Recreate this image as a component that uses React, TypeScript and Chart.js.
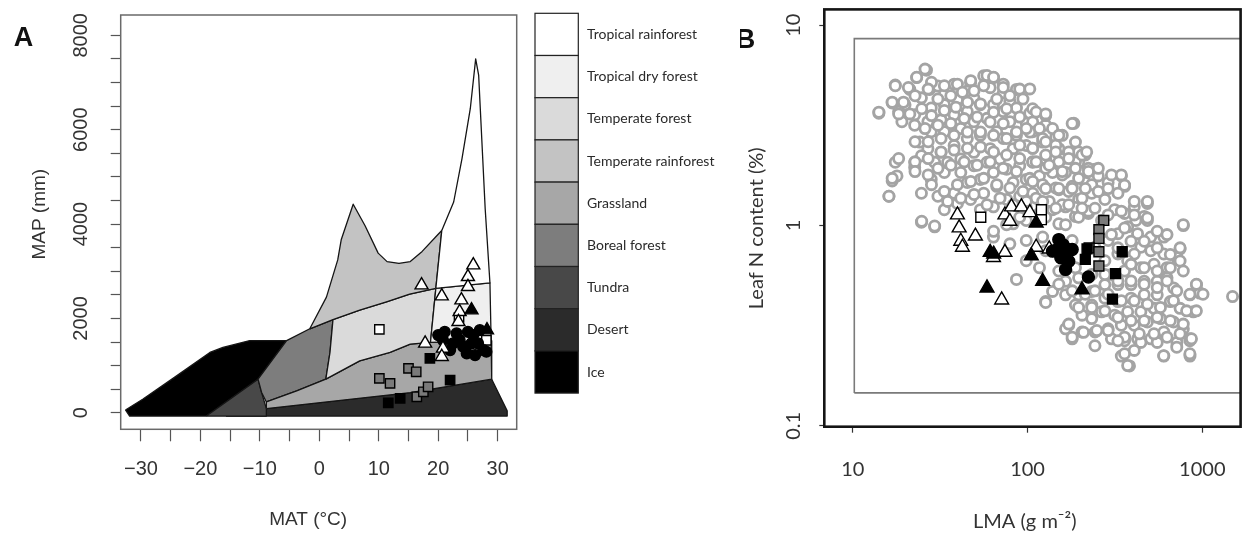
import React, { useEffect, useRef } from "react";
import { Chart, registerables } from "chart.js";
Chart.register(...registerables);

type P = [number, number];

// ---------- Panel A: biome legend ----------
const biomeNames = [
  "Tropical rainforest",
  "Tropical dry forest",
  "Temperate forest",
  "Temperate rainforest",
  "Grassland",
  "Boreal forest",
  "Tundra",
  "Desert",
  "Ice",
];
const biomeColors = ["#ffffff", "#efefef", "#dadada", "#c3c3c3", "#a7a7a7", "#7d7d7d", "#484848", "#2b2b2b", "#000000"];

// ---------- Panel A: biome outlines [MAT °C, MAP mm] ----------
const desertOutline: P[] = [[-15.7, -70], [-8.9, 89], [15.3, 429], [29.0, 712], [31.6, 40], [31.6, -70]];
const iceOutline: P[] = [[-32.6, 60], [-29.7, 287], [-24.0, 782], [-18.4, 1279], [-16.2, 1385], [-11.7, 1530], [-5.5, 1530], [-10.3, 712], [-19.0, -70], [-31.9, -70]];
const tundraOutline: P[] = [[-19.0, -70], [-10.3, 712], [-9.7, 429], [-8.9, 89], [-8.9, -70]];
const borealOutline: P[] = [[-5.5, 1530], [-1.6, 1780], [2.3, 1975], [1.8, 1279], [1.1, 712], [-3.8, 464], [-8.9, 230], [-9.7, 429], [-10.3, 712]];
const grasslandOutline: P[] = [[-8.9, 89], [-8.9, 230], [-3.8, 464], [1.1, 712], [6.8, 1101], [11.9, 1279], [15.3, 1456], [18.7, 1491], [28.9, 1527], [29.0, 712], [15.3, 429]];
const temperateForestOutline: P[] = [[1.1, 712], [1.8, 1279], [2.3, 1975], [6.8, 2176], [11.3, 2352], [15.2, 2515], [19.6, 2636], [18.7, 1491], [15.3, 1456], [11.9, 1279], [6.8, 1101]];
const temperateRainforestOutline: P[] = [[-1.6, 1780], [1.2, 2450], [3.1, 3240], [3.7, 3674], [5.7, 4420], [7.7, 3964], [9.9, 3384], [11.4, 3204], [13.4, 3168], [15.3, 3204], [17.3, 3420], [19.8, 3757], [20.6, 3863], [19.6, 2636], [15.2, 2515], [11.3, 2352], [6.8, 2176], [2.3, 1975]];
const tropicalDryOutline: P[] = [[19.6, 2636], [28.7, 2752], [28.9, 1527], [18.7, 1491]];
const tropicalRainOutline: P[] = [[19.6, 2636], [20.6, 3863], [22.6, 4467], [24.0, 5387], [25.4, 6449], [26.3, 7500], [26.8, 7157], [27.9, 4324], [28.7, 2752]];

const drawOrder = ["Desert", "Ice", "Tundra", "Boreal forest", "Grassland", "Temperate forest", "Temperate rainforest", "Tropical dry forest", "Tropical rainforest"];
const outlines: Record<string, P[]> = {
  "Desert": desertOutline,
  "Ice": iceOutline,
  "Tundra": tundraOutline,
  "Boreal forest": borealOutline,
  "Grassland": grasslandOutline,
  "Temperate forest": temperateForestOutline,
  "Temperate rainforest": temperateRainforestOutline,
  "Tropical dry forest": tropicalDryOutline,
  "Tropical rainforest": tropicalRainOutline,
};

// ---------- Panel A: sites [MAT, MAP] ----------
const whiteTrianglesA: P[] = [[17.2, 2706], [20.6, 2473], [25.9, 3130], [25.0, 2882], [25.0, 2670], [23.9, 2388], [23.6, 2140], [23.4, 1928], [17.8, 1471], [20.8, 1365], [20.6, 1187]];
const whiteSquaresA: P[] = [[10.1, 1767], [23.5, 2021], [28.1, 1536]];
const graySquaresA: P[] = [[10.1, 729], [11.9, 623], [15.0, 941], [16.3, 869], [16.4, 339], [17.5, 445], [18.3, 551]];
const blackSquaresA: P[] = [[11.6, 212], [13.6, 305], [18.6, 1153], [22.0, 693]];
const blackTrianglesA: P[] = [[25.6, 2176], [28.2, 1752]];
const blackCirclesA: P[] = [[20.0, 1646], [21.1, 1716], [20.8, 1540], [23.1, 1682], [23.6, 1540], [25.0, 1716], [25.9, 1646], [25.6, 1470], [26.7, 1470], [27.6, 1329], [26.2, 1223], [24.2, 1399], [22.5, 1470], [22.0, 1329], [27.0, 1752], [28.1, 1293], [24.8, 1259]];

const matTicks = [-30, -25, -20, -15, -10, -5, 0, 5, 10, 15, 20, 25, 30];
const mapTicks = [0, 500, 1000, 1500, 2000, 2500, 3000, 3500, 4000, 4500, 5000, 5500, 6000, 6500, 7000, 7500, 8000];

// ---------- Panel B: global leaf data [LMA g m-2, N %] ----------
const globalLeaves: P[] = [
  [26.4, 5.97], [23.2, 5.48], [17.5, 5.03], [21.2, 4.78], [27.5, 4.78], [30.7, 4.97], [38.0, 5.08], [47.2, 5.17], [56.1, 5.59], [63.8, 5.48],
  [45.2, 4.69], [33.4, 4.51], [24.7, 4.34], [19.9, 4.01], [16.8, 4.09], [14.1, 3.64], [18.3, 3.71], [22.6, 3.57], [28.1, 3.86], [33.4, 4.01],
  [39.7, 4.25], [49.3, 4.34], [61.1, 4.88], [72.6, 4.60], [86.4, 4.78], [94.2, 4.65], [72.6, 5.08], [79.2, 4.17], [63.8, 4.01], [53.7, 4.01],
  [45.2, 3.71], [38.0, 3.57], [32.0, 3.37], [26.9, 3.30], [22.6, 3.17], [19.1, 3.30], [24.2, 2.61], [28.1, 2.94], [33.4, 2.94], [41.5, 3.05],
  [49.3, 3.30], [58.6, 3.43], [72.6, 3.71], [86.4, 3.86], [103, 3.64], [127, 3.57], [184, 3.24], [127, 3.17], [98.3, 3.24], [79.2, 3.30],
  [66.6, 2.94], [53.7, 2.82], [45.2, 2.72], [38.0, 2.51], [32.0, 2.32], [26.9, 2.42], [24.7, 2.23], [22.6, 2.07], [29.4, 2.07], [34.9, 2.07],
  [41.5, 2.15], [49.3, 2.32], [61.1, 2.42], [72.6, 2.72], [86.4, 2.82], [107, 2.94], [145, 2.77], [188, 2.61], [151, 2.42], [122, 2.61],
  [98.3, 2.51], [82.7, 2.42], [69.6, 2.15], [58.6, 2.07], [49.3, 1.99], [41.5, 1.84], [33.4, 1.84], [28.1, 1.70], [22.6, 1.95], [17.5, 2.07],
  [17.9, 1.77], [16.8, 1.67], [16.1, 1.40], [24.7, 1.45], [30.7, 1.40], [38.0, 1.45], [45.2, 1.64], [53.7, 1.70], [63.8, 1.84], [75.9, 1.91],
  [90.2, 1.99], [107, 2.07], [127, 2.15], [158, 2.15], [214, 2.28], [196, 2.07], [243, 1.91], [165, 1.84], [139, 1.84], [117, 1.77],
  [98.3, 1.70], [82.7, 1.64], [66.6, 1.57], [56.1, 1.45], [47.2, 1.35], [39.7, 1.29], [33.4, 1.20], [254, 1.77], [289, 1.64], [344, 1.77],
  [359, 1.57], [214, 1.64], [180, 1.57], [151, 1.51], [127, 1.54], [107, 1.45], [90.2, 1.40], [75.9, 1.35], [63.8, 1.24], [53.7, 1.20],
  [24.7, 1.04], [29.4, 0.985], [196, 1.35], [233, 1.45], [277, 1.35], [329, 1.45], [408, 1.24], [485, 1.29], [465, 1.11], [417, 1.06],
  [485, 1.06], [165, 1.24], [139, 1.20], [117, 1.15], [98.3, 1.06], [82.7, 1.02], [151, 1.02], [188, 1.11], [223, 1.15], [265, 1.06],
  [315, 1.20], [359, 1.15], [374, 0.985], [329, 0.911], [289, 0.842], [426, 0.911], [507, 0.876], [602, 0.876], [779, 1.00], [746, 0.764],
  [715, 0.693], [602, 0.721], [507, 0.749], [445, 0.779], [408, 0.721], [374, 0.667], [329, 0.721], [243, 0.779], [151, 0.842], [180, 0.842],
  [63.8, 0.876], [79.2, 0.810], [98.3, 0.842], [122, 0.876], [98.3, 0.667], [117, 0.616], [127, 0.749], [188, 0.616], [151, 0.593], [165, 0.527],
  [196, 0.548], [233, 0.570], [277, 0.667], [302, 0.570], [359, 0.593], [445, 0.616], [529, 0.641], [628, 0.616], [628, 0.548], [552, 0.527],
  [465, 0.527], [391, 0.507], [329, 0.507], [277, 0.507], [233, 0.469], [196, 0.451], [165, 0.451], [139, 0.469], [127, 0.417], [188, 0.401],
  [233, 0.401], [277, 0.434], [329, 0.417], [391, 0.434], [465, 0.451], [552, 0.451], [685, 0.488], [850, 0.451], [927, 0.507], [968, 0.460],
  [1489, 0.442], [86.4, 0.538], [888, 0.371], [746, 0.386], [656, 0.417], [529, 0.386], [445, 0.371], [374, 0.371], [315, 0.357], [265, 0.371],
  [233, 0.343], [205, 0.357], [172, 0.318], [205, 0.294], [243, 0.294], [289, 0.305], [344, 0.318], [408, 0.318], [485, 0.330], [577, 0.343],
  [685, 0.330], [779, 0.305], [602, 0.294], [507, 0.272], [426, 0.272], [359, 0.266], [344, 0.223], [383, 0.199], [445, 0.261], [552, 0.261],
  [602, 0.223], [715, 0.261], [850, 0.272], [850, 0.223], [302, 0.272], [243, 0.251], [180, 0.272], [165, 0.305],
];
const globalLeavesUpper: P[] = [
  [25.9, 6.04], [23.2, 5.50], [17.5, 4.99], [20.8, 4.89], [28.2, 5.19], [33.4, 4.99], [39.7, 5.08], [47.3, 5.29], [58.6, 5.61], [63.9, 5.50],
  [72.6, 4.89], [90.2, 4.80], [14.1, 3.68], [16.8, 4.13], [19.5, 4.13], [22.7, 4.45], [27.0, 4.80], [30.7, 4.28], [36.4, 4.45], [42.4, 4.63],
  [49.4, 4.71], [56.1, 4.99], [66.7, 4.28], [79.2, 4.45], [94.1, 4.28], [107, 3.83], [127, 3.54], [180, 3.23], [18.3, 3.61], [21.2, 3.61],
  [24.8, 3.83], [28.2, 3.54], [33.4, 3.75], [38.9, 3.90], [45.3, 4.13], [53.8, 4.05], [63.9, 3.68], [75.9, 3.83], [90.2, 3.48], [107, 3.29],
  [139, 3.05], [158, 2.82], [196, 2.33], [25.9, 3.05], [30.7, 3.17], [36.4, 3.23], [43.4, 3.42], [51.5, 3.48], [61.1, 3.29], [72.6, 3.23],
  [86.4, 2.93], [103, 2.93], [122, 2.72], [145, 2.52], [172, 2.33], [214, 2.25], [22.7, 2.62], [27.0, 2.62], [32.0, 2.72], [38.0, 2.82],
  [45.3, 2.93], [53.8, 2.93], [63.9, 2.82], [75.9, 2.72], [90.2, 2.52], [107, 2.43], [127, 2.25], [151, 2.08], [188, 2.08], [223, 1.93],
  [18.3, 2.16], [22.7, 2.08], [27.0, 2.16], [32.0, 2.33], [38.0, 2.38], [45.3, 2.43], [53.8, 2.47], [63.9, 2.33], [75.9, 2.25], [90.2, 2.16],
  [107, 2.08], [127, 1.93], [158, 1.79], [196, 1.72], [233, 1.60], [16.8, 1.72], [16.1, 1.40], [22.7, 1.86], [27.0, 1.79], [30.7, 1.93],
  [36.4, 2.00], [43.4, 2.08], [51.5, 2.00], [61.1, 2.08], [72.6, 1.93], [86.4, 1.86], [103, 1.72], [122, 1.60], [145, 1.54], [172, 1.48],
  [205, 1.37], [28.2, 1.60], [33.4, 1.48], [39.7, 1.60], [47.3, 1.66], [56.1, 1.72], [66.7, 1.60], [79.2, 1.54], [94.1, 1.48], [112, 1.37],
  [133, 1.32], [158, 1.27], [188, 1.23], [223, 1.18], [34.9, 1.32], [41.5, 1.37], [49.4, 1.43], [58.6, 1.27], [69.6, 1.37], [82.7, 1.27],
  [98.3, 1.23], [24.8, 1.05], [29.4, 0.995], [63.9, 0.936], [75.9, 1.01], [90.2, 1.10], [127, 1.10], [165, 1.01], [196, 1.10],
];
const globalLeavesLower: P[] = [
  [103, 4.81], [112, 3.69], [127, 3.61], [98.3, 3.05], [117, 3.05], [151, 2.82], [127, 2.62], [107, 2.43], [145, 2.33], [172, 2.16],
  [205, 2.25], [218, 2.33], [112, 2.08], [133, 2.00], [158, 1.86], [188, 1.93], [223, 1.86], [254, 1.93], [302, 1.79], [344, 1.79],
  [359, 1.59], [107, 1.66], [127, 1.53], [151, 1.53], [180, 1.53], [214, 1.53], [254, 1.48], [289, 1.53], [408, 1.32], [485, 1.32],
  [98.3, 1.32], [122, 1.32], [145, 1.22], [172, 1.27], [205, 1.22], [243, 1.22], [289, 1.13], [344, 1.18], [408, 1.13], [485, 1.09],
  [552, 0.936], [628, 0.901], [778, 1.01], [359, 0.972], [302, 0.901], [329, 0.774], [391, 0.835], [465, 0.835], [552, 0.774], [656, 0.717],
  [746, 0.774], [746, 0.665], [391, 0.640], [465, 0.616], [552, 0.593], [656, 0.616], [778, 0.593], [925, 0.509], [1009, 0.454], [277, 0.570],
  [329, 0.529], [391, 0.529], [465, 0.509], [552, 0.490], [628, 0.529], [714, 0.472], [849, 0.454], [151, 0.509], [127, 0.413], [180, 0.472],
  [214, 0.454], [243, 0.472], [289, 0.454], [344, 0.421], [408, 0.421], [485, 0.405], [576, 0.390], [684, 0.421], [813, 0.375], [925, 0.375],
  [196, 0.390], [233, 0.390], [277, 0.375], [329, 0.348], [391, 0.335], [465, 0.335], [552, 0.348], [656, 0.335], [778, 0.322], [172, 0.322],
  [209, 0.293], [249, 0.299], [180, 0.277], [289, 0.299], [359, 0.277], [436, 0.288], [529, 0.288], [628, 0.277], [746, 0.288], [849, 0.266],
  [329, 0.266], [359, 0.229], [408, 0.238], [601, 0.224], [849, 0.229], [374, 0.200], [714, 0.247], [867, 0.272],
];

// ---------- Panel B: study sites [LMA, N] ----------
const whiteTrianglesB: P[] = [[39.7, 1.13], [40.6, 0.973], [41.5, 0.835], [42.4, 0.779], [50.3, 0.886], [74.2, 1.13], [80.9, 1.24], [92.2, 1.24], [103, 1.16], [79.2, 1.05], [74.2, 0.735], [63.8, 0.693], [112, 0.779], [133, 0.764], [71.1, 0.425]];
const whiteSquaresB: P[] = [[54, 1.10], [120, 1.20], [120, 1.07]];
const blackTrianglesB: P[] = [[112, 1.03], [61.1, 0.735], [64, 0.72], [105, 0.707], [58.6, 0.488], [122, 0.527], [205, 0.478]];
const blackCirclesB: P[] = [[151, 0.851], [148, 0.759], [158, 0.718], [169, 0.759], [180, 0.759], [165, 0.604], [155, 0.690], [139, 0.745], [223, 0.553], [172, 0.664], [160, 0.80]];
const graySquaresB: P[] = [[273, 1.06], [256, 0.954], [256, 0.862], [225, 0.773], [256, 0.740], [256, 0.628]];
const blackSquaresB: P[] = [[214, 0.677], [219, 0.765], [348, 0.740], [319, 0.575], [306, 0.429]];
const innerFrameLMA = [10.2, 3000];
const innerFrameN = [0.146, 8.58];
const lmaTicks = [10, 100, 1000];
const nTicks = [0.1, 1, 10];

const SANS = '"Liberation Sans", Arial, sans-serif';
const LATO = 'Lato, "Open Sans", sans-serif';

const xy = (pts: P[]) => pts.map(([x, y]) => ({ x, y }));

function markers(pts: P[], style: string, fill: string, radius: number, order: number, border = "#000", bw = 1.4) {
  return {
    data: xy(pts),
    pointStyle: style,
    pointRadius: radius,
    pointBackgroundColor: fill,
    pointBorderColor: border,
    pointBorderWidth: bw,
    showLine: false,
    order,
  };
}

const frameA = {
  id: "frameA",
  afterDraw(chart: any) {
    const { ctx, chartArea: a } = chart;
    ctx.save();
    ctx.strokeStyle = "#6a6a6a";
    ctx.lineWidth = 1.5;
    ctx.strokeRect(a.left, a.top, a.right - a.left, a.bottom - a.top);
    const lx = 535, ly = 13.3, bw = 43.3, bh = 42.2;
    biomeNames.forEach((name, i) => {
      ctx.fillStyle = biomeColors[i];
      ctx.fillRect(lx, ly + i * bh, bw, bh);
      ctx.strokeStyle = "#222";
      ctx.lineWidth = 1.2;
      ctx.strokeRect(lx, ly + i * bh, bw, bh);
      ctx.fillStyle = "#2a2a2a";
      ctx.font = `14px ${LATO}`;
      ctx.textAlign = "left";
      ctx.textBaseline = "middle";
      ctx.fillText(name, 587, ly + i * bh + bh / 2);
    });
    ctx.fillStyle = "#111";
    ctx.font = `bold 27px ${SANS}`;
    ctx.textAlign = "center";
    ctx.textBaseline = "middle";
    ctx.fillText("A", 23.5, 39);
    ctx.restore();
  },
};

const frameB = {
  id: "frameB",
  afterDraw(chart: any) {
    const { ctx, chartArea: a } = chart;
    ctx.save();
    ctx.strokeStyle = "#151515";
    ctx.lineWidth = 2.6;
    ctx.strokeRect(a.left, a.top, a.right - a.left, a.bottom - a.top);
    ctx.fillStyle = "#111";
    ctx.font = `bold 27px ${SANS}`;
    ctx.textAlign = "center";
    ctx.textBaseline = "middle";
    ctx.fillText("B", 5.5, 41);
    ctx.restore();
  },
};

const minus = (v: number) => (v < 0 ? "\u2212" + Math.abs(v) : String(v));

export default function App() {
  const refA = useRef<HTMLCanvasElement>(null);
  const refB = useRef<HTMLCanvasElement>(null);

  useEffect(() => {
    const polys = drawOrder.map((name, i) => {
      const pts = outlines[name];
      return {
        data: xy([...pts, pts[0]]),
        showLine: true,
        fill: "shape",
        backgroundColor: biomeColors[biomeNames.indexOf(name)],
        borderColor: "#151515",
        borderWidth: 1.3,
        borderJoinStyle: "round",
        pointRadius: 0,
        tension: 0,
        order: 100 - i,
      };
    });
    const chartA = new Chart(refA.current!, {
      type: "scatter",
      data: {
        datasets: [
          ...polys,
          markers(graySquaresA, "rect", "#7a7a7a", 6.6, 6),
          markers(blackSquaresA, "rect", "#000", 6.6, 5),
          markers(whiteSquaresA, "rect", "#fff", 6.6, 4),
          markers(blackCirclesA, "circle", "#000", 5.4, 3),
          markers(whiteTrianglesA, "triangle", "#fff", 7.5, 2),
          markers(blackTrianglesA, "triangle", "#000", 7.5, 1),
        ] as any,
      },
      options: {
        responsive: false,
        animation: false,
        events: [],
        layout: { padding: { left: 0, top: 15, right: 223.3, bottom: 0 } },
        plugins: { legend: { display: false }, tooltip: { enabled: false } },
        scales: {
          x: {
            type: "linear",
            min: -33.4,
            max: 33.2,
            afterBuildTicks: (s: any) => { s.ticks = matTicks.map((v) => ({ value: v })); },
            afterFit: (s: any) => { s.height = 106.7; s.paddingLeft = 0; s.paddingRight = 0; },
            border: { display: false },
            grid: { drawOnChartArea: false, drawTicks: true, tickLength: 12, tickColor: "#555", tickWidth: 1.2 },
            ticks: {
              autoSkip: false, minRotation: 0, maxRotation: 0, padding: 16, color: "#333",
              font: { family: SANS, size: 20 },
              callback: (v: any) => (Number(v) % 10 === 0 ? minus(Number(v)) : ""),
            },
            title: { display: true, text: "MAT (°C)\u00a0\u00a0\u00a0\u00a0", color: "#333", font: { family: SANS, size: 19 }, padding: { top: 0, bottom: 4.6 } },
          },
          y: {
            type: "linear",
            min: -350,
            max: 8430,
            afterBuildTicks: (s: any) => { s.ticks = mapTicks.map((v) => ({ value: v })); },
            afterFit: (s: any) => { s.width = 120.7; s.paddingTop = 0; s.paddingBottom = 0; },
            border: { display: false },
            grid: { drawOnChartArea: false, drawTicks: true, tickLength: 10, tickColor: "#555", tickWidth: 1.2 },
            ticks: {
              autoSkip: false, minRotation: 90, maxRotation: 90, crossAlign: "center", padding: 6.7, color: "#333",
              font: { family: SANS, size: 20 },
              callback: (v: any) => (Number(v) % 2000 === 0 ? String(v) : ""),
            },
            title: { display: true, text: "\u00a0\u00a0\u00a0MAP (mm)", color: "#333", font: { family: SANS, size: 19 }, padding: { top: 28.6, bottom: 0 } },
          },
        },
      } as any,
      plugins: [frameA],
    });

    const [fx0, fx1] = innerFrameLMA;
    const [fy0, fy1] = innerFrameN;
    const frameRect: P[] = [[fx0, fy0], [fx0, fy1], [fx1, fy1], [fx1, fy0], [fx0, fy0]];
    const cloud = [...globalLeaves, ...globalLeavesUpper, ...globalLeavesLower];
    const chartB = new Chart(refB.current!, {
      type: "scatter",
      data: {
        datasets: [
          { data: xy(frameRect), showLine: true, borderColor: "#7a7a7a", borderWidth: 1.6, pointRadius: 0, fill: false, order: 100 },
          markers(cloud, "circle", "#fff", 5.1, 50, "#a4a4a4", 2.8),
          markers(graySquaresB, "rect", "#7a7a7a", 7, 6),
          markers(blackSquaresB, "rect", "#000", 7, 5),
          markers(whiteSquaresB, "rect", "#fff", 7, 4),
          markers(whiteTrianglesB, "triangle", "#fff", 8, 3),
          markers(blackCirclesB, "circle", "#000", 6, 2),
          markers(blackTrianglesB, "triangle", "#000", 8, 1),
        ] as any,
      },
      options: {
        responsive: false,
        animation: false,
        events: [],
        layout: { padding: { left: 0, top: 6.7, right: 1.7, bottom: 0 } },
        plugins: { legend: { display: false }, tooltip: { enabled: false } },
        scales: {
          x: {
            type: "logarithmic",
            min: 6.87,
            max: 1656,
            afterBuildTicks: (s: any) => { s.ticks = lmaTicks.map((v) => ({ value: v })); },
            afterFit: (s: any) => { s.height = 109.3; s.paddingLeft = 0; s.paddingRight = 0; },
            border: { display: false },
            grid: { drawOnChartArea: false, drawTicks: true, tickLength: 6, tickColor: "#333", tickWidth: 1.2 },
            ticks: {
              autoSkip: false, minRotation: 0, maxRotation: 0, padding: 25.3, color: "#333",
              font: { family: LATO, size: 20 },
              callback: (v: any) => String(v),
            },
            title: { display: true, text: "LMA (g m\u207B\u00B2)\u00a0\u00a0\u00a0", color: "#333", font: { family: LATO, size: 20 }, padding: { top: 0, bottom: 2.6 } },
          },
          y: {
            type: "logarithmic",
            min: 0.099,
            max: 12,
            afterBuildTicks: (s: any) => { s.ticks = nTicks.map((v) => ({ value: v })); },
            afterFit: (s: any) => { s.width = 84.3; s.paddingTop = 0; s.paddingBottom = 0; },
            border: { display: false },
            grid: { drawOnChartArea: false, drawTicks: true, tickLength: 5, tickColor: "#333", tickWidth: 1.2 },
            ticks: {
              autoSkip: false, minRotation: 90, maxRotation: 90, crossAlign: "center", padding: 12, color: "#333",
              font: { family: LATO, size: 20 },
              callback: (v: any) => String(v),
            },
            title: { display: true, text: "Leaf N content (%)\u00a0\u00a0\u00a0\u00a0", color: "#333", font: { family: LATO, size: 20 }, padding: { top: 4.7, bottom: 0 } },
          },
        },
      } as any,
      plugins: [frameB],
    });

    return () => {
      chartA.destroy();
      chartB.destroy();
    };
  }, []);

  return (
    <div style={{ position: "absolute", left: 0, top: 0, width: 1250, height: 536, background: "#fff" }}>
      <canvas ref={refA} width={740} height={536} style={{ position: "absolute", left: 0, top: 0, width: 740, height: 536 }} />
      <canvas ref={refB} width={510} height={536} style={{ position: "absolute", left: 740, top: 0, width: 510, height: 536 }} />
    </div>
  );
}
